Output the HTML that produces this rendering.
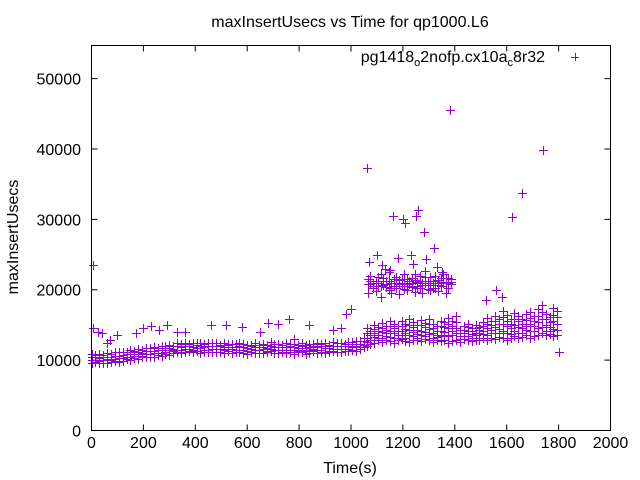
<!DOCTYPE html>
<html><head><meta charset="utf-8"><style>
html,body{margin:0;padding:0;background:#fff}
svg{display:block;font-family:"Liberation Sans",sans-serif}
</style></head><body>
<svg id="chart" width="640" height="480" viewBox="0 0 640 480">
<rect x="0" y="0" width="640" height="480" fill="#fff"/>
<text x="350" y="27" text-anchor="middle" font-size="16">maxInsertUsecs vs Time for qp1000.L6</text>
<text transform="translate(18,237) rotate(-90)" text-anchor="middle" font-size="16">maxInsertUsecs</text>
<text x="350" y="473" text-anchor="middle" font-size="16">Time(s)</text>
<g id="axes"></g>
<g id="marks" shape-rendering="crispEdges"></g>
<g>
<text x="545" y="62" text-anchor="end" font-size="16">pg1418<tspan dy="4" font-size="11">o</tspan><tspan dy="-4">2nofp.cx10a</tspan><tspan dy="4" font-size="11">c</tspan><tspan dy="-4">8r32</tspan></text>
<path d="M571,57.5h8M575.5,53v8" stroke="#9400d3" stroke-width="1" shape-rendering="crispEdges"/>
</g>
<rect x="91.5" y="45.5" width="519" height="385" fill="none" stroke="#000" stroke-width="1"/>
</svg>
<script>
const xTicks=[0,200,400,600,800,1000,1200,1400,1600,1800,2000];
const yTicks=[0,10000,20000,30000,40000,50000];
const bandTimes=[0,15,30,45,60,75,90,105,120,135,150,165,180,195,210,225,240,255,270,285,300,315,330,345,360,375,390,405,420,435,450,465,480,495,510,525,540,555,570,585,600,615,630,645,660,675,690,705,720,735,750,765,780,795,810,825,840,855,870,885,900,915,930,945,960,975,990,1005,1020,1035,1050];
const bandR1=[9600,9700,9550,9650,9550,9800,9900,9800,9900,10100,10050,10250,10150,10400,10500,10400,10500,10700,10650,10850,10750,11000,11200,11000,11100,11300,11150,11350,11050,11200,11200,11100,11100,11200,11050,11250,10950,11200,11200,11000,10900,11200,11050,11050,10950,11100,11300,11000,11000,11100,11050,11150,10850,11100,11200,10900,11000,11300,11050,11150,11050,11100,11300,11100,11200,11300,11250,11450,11350,11600,11900];
const bandR2=[10050,10050,9900,10000,10200,10050,10200,10250,10350,10450,10400,10600,10800,10650,10800,10850,10950,11050,11000,11200,11400,11250,11500,11450,11550,11650,11500,11700,11700,11450,11500,11550,11550,11550,11400,11600,11600,11450,11500,11450,11350,11550,11400,11400,11600,11350,11600,11450,11450,11450,11400,11500,11500,11350,11500,11350,11450,11650,11400,11500,11700,11350,11600,11550,11650,11650,11600,11800,12000,11850,12200];
const bandR3=[10450,10450,10300,10500,10500,10450,10650,10650,10750,10850,10800,11100,11100,11050,11250,11250,11350,11450,11400,11700,11700,11650,11950,11850,11950,12050,11900,12200,12000,11850,11950,11950,11950,11950,11800,12100,11900,11850,11950,11850,11750,11950,11800,11900,11900,11750,12050,11850,11850,11850,11800,12000,11800,11750,11950,11750,11850,12050,11800,12000,12000,11750,12050,11950,12050,12050,12000,12300,12300,12250,12650];
const bandR4=[10900,10700,10900,10750,10950,10850,11150,11100,11200,11100,11400,11350,11550,11450,11750,11700,11800,11700,12000,11950,12150,12050,12450,12300,12400,12300,12500,12450,12450,12250,12450,12400,12400,12200,12400,12350,12350,12250,12450,12300,12200,12200,12400,12150,12350,12150,12550,12300,12300,12100,12400,12250,12250,12150,12450,12200,12300,12300,12400,12250,12450,12150,12550,12400,12500,12300,12600,12550,12750,12650,13150];
const outX=[5,5,25,40,60,70,100,170,200,230,260,290,330,360,460,520,580,650,680,720,760,840,930,980,1000,960,780,1060,1100,1130,1160,1200,1210,1250,1260,1280,1230,1320,1380,1620,1660,1740,1800,1560,1580,1520,1070,1120,1150,1180,1240,1290,1330,1350];
const outY=[23500,14500,14000,13800,12500,12800,13500,13900,14500,14800,14300,15000,14000,14000,15000,15000,14700,14000,15300,15200,15800,15000,14300,16500,17200,14500,13000,37300,25000,23000,30500,30000,29500,30500,31300,28200,25000,26000,45600,30300,33700,39800,11200,20000,19000,18500,24000,23500,22800,24500,23700,24300,23200,22500];
const hiTimes=[1065,1075,1085,1095,1105,1115,1125,1135,1145,1155,1165,1175,1185,1195,1205,1215,1225,1235,1245,1255,1265,1275,1285,1295,1305,1315,1325,1335,1345,1355,1365,1375,1385];
const hiUpper=[21500,22000,21000,20500,21800,22300,21200,20800,22500,21000,20600,21800,21400,20900,22200,21500,20800,21700,22300,21100,21900,20700,22600,21300,21800,20900,22000,21400,21100,22300,21700,21000,21500];
const hiMid=[20800,21300,20600,21200,21000,20600,21600,20400,21300,20300,21500,20900,20800,21500,21000,20600,21300,21000,21400,20300,21200,20900,21800,20700,21300,20200,21300,20700,21700,21600,20900,21600,21100];
const hiLower=[19500,20800,20200,19800,20500,19000,20700,21300,20000,19600,20900,20300,19400,20600,20100,19900,20800,20400,19700,20600,20300,19500,21000,20100,19900,20700,20200,19800,20500,21000,19600,20300,20800];
const postTimes=[1060,1075,1090,1105,1120,1135,1150,1165,1180,1195,1210,1225,1240,1255,1270,1285,1300,1315,1330,1345,1360,1375,1390,1405,1420,1435,1450,1465,1480,1495,1510,1525,1540,1555,1570,1585,1600,1615,1630,1645,1660,1675,1690,1705,1720,1735,1750,1765,1780,1795];
const postLo=[12000,12300,12500,12800,12600,12900,12700,12500,12800,13000,12700,12600,12900,12800,12700,13000,12800,12600,12900,12700,12800,12500,12700,12900,12600,13000,12800,12700,12900,12800,13100,12900,13200,13000,13300,13100,12900,13200,13400,13100,13300,13500,13200,13400,13600,13800,13500,13700,13400,13600];
const postQ1=[12600,12900,13300,13100,13200,13400,13300,13100,13200,13600,13200,13500,13400,13200,13500,13400,13700,13200,13300,13400,13500,13400,13500,13800,13000,13400,13400,13200,13500,13200,13700,13600,13800,13900,13800,14100,13900,13700,14200,13900,13800,14300,14100,14100,14500,14700,14200,14100,14400,14300];
const postMid=[13200,13500,13800,13600,14000,13800,14200,13900,13600,14100,13800,14300,14000,13700,14200,14000,14400,13900,13600,14100,14000,14500,14100,14600,13400,13800,14100,13700,13900,13800,14200,14500,14300,14700,14400,15200,14800,14500,15000,14700,14500,14900,15200,14800,15400,15800,15000,14700,15500,15200];
const postQ3=[13900,13800,14400,14200,14600,14300,14900,14500,14200,14800,14400,15000,14700,14300,15000,14700,15100,14500,14200,14900,14700,15200,14800,15400,13900,14300,14700,14200,14500,14300,14800,15200,15000,15500,15100,16100,15600,15200,15900,15500,15100,15700,16000,15600,16300,16800,15800,15400,16400,16100];
const postHi=[14500,14200,15000,14700,15300,14900,15600,15200,14800,15500,15100,15800,15400,15000,15700,15300,15900,15200,14800,15600,15400,16000,15500,16200,14300,14800,15200,14600,15000,14700,15400,16000,15600,16300,15800,17000,16400,15900,16700,16200,15800,16500,16900,16300,17200,17800,16600,16100,17400,17000];

const L=91.5,R=610.5,T=45.5,B=430.5,XMAX=2000,YMAX=54700;
function sx(v){return L+(v/XMAX)*(R-L);}
function sy(v){return B-(v/YMAX)*(B-T);}
const NS='http://www.w3.org/2000/svg';
const axes=document.getElementById('axes');
const marks=document.getElementById('marks');
xTicks.forEach(v=>{
  const x=sx(v);
  const p=document.createElementNS(NS,'path');
  p.setAttribute('d',`M${x},${B}v-6M${x},${T}v6`);
  p.setAttribute('stroke','#000');
  
  
  axes.appendChild(p);
  const t=document.createElementNS(NS,'text');
  t.setAttribute('x',x);t.setAttribute('y',448);
  t.setAttribute('text-anchor','middle');t.setAttribute('font-size','16');
  
  
  t.textContent=v;axes.appendChild(t);
});
yTicks.forEach(v=>{
  const y=sy(v);
  const p=document.createElementNS(NS,'path');
  p.setAttribute('d',`M${L},${y}h6M${R},${y}h-6`);
  p.setAttribute('stroke','#000');
  
  
  axes.appendChild(p);
  const t=document.createElementNS(NS,'text');
  t.setAttribute('x',81);t.setAttribute('y',y+6);
  t.setAttribute('text-anchor','end');t.setAttribute('font-size','16');
  
  
  t.textContent=v;axes.appendChild(t);
});
function plus(xv,yv){
  const x=Math.round(sx(xv))+0.5,y=Math.round(sy(yv))+0.5;
  const p=document.createElementNS(NS,'path');
  p.setAttribute('d',`M${x-4.5},${y}h9M${x},${y-4.5}v9`);
  p.setAttribute('stroke','#9400d3');
  p.setAttribute('stroke-width','1');
  
  
  marks.appendChild(p);
}
bandTimes.forEach((t,i)=>{plus(t,bandR1[i]);plus(t,bandR2[i]);plus(t,bandR3[i]);plus(t,bandR4[i]);});
hiTimes.forEach((t,i)=>{plus(t,hiUpper[i]);plus(t,hiMid[i]);plus(t,hiLower[i]);});
postTimes.forEach((t,i)=>{plus(t,postLo[i]);plus(t,postQ1[i]);plus(t,postMid[i]);plus(t,postQ3[i]);plus(t,postHi[i]);});
outX.forEach((t,i)=>plus(t,outY[i]));
</script>
</body></html>
